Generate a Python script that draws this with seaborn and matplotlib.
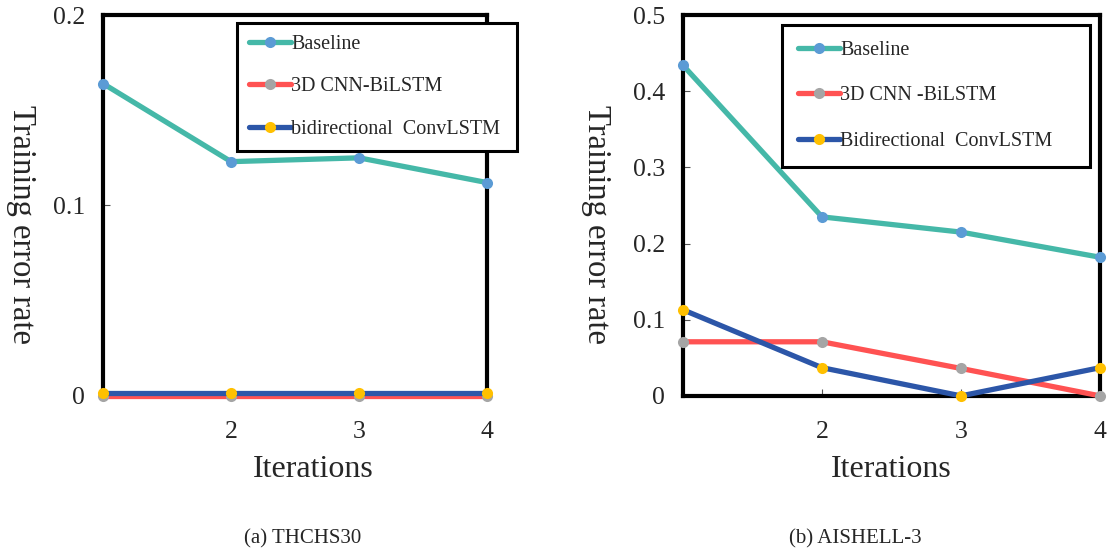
import matplotlib
matplotlib.use("Agg")
import matplotlib.pyplot as plt
import seaborn as sns
import pandas as pd

iterations = [1, 2, 3, 4]
series_names_a = ["Baseline", "3D CNN-BiLSTM", "bidirectional  ConvLSTM"]
series_names_b = ["Baseline", "3D CNN -BiLSTM", "Bidirectional  ConvLSTM"]

a_baseline = [0.164, 0.123, 0.125, 0.112]
a_cnn_bilstm = [0.0, 0.0, 0.0, 0.0]
a_convlstm = [0.0015, 0.0015, 0.0015, 0.0015]

b_baseline = [0.434, 0.235, 0.215, 0.182]
b_cnn_bilstm = [0.071, 0.071, 0.036, 0.0]
b_convlstm = [0.113, 0.037, 0.0, 0.037]

line_colors = ["#45B8A8", "#FF5252", "#2C56A8"]
marker_colors = ["#5B9BD5", "#A5A5A5", "#FFC000"]

a_yticks = [0, 0.1, 0.2]
a_yticklabels = ["0", "0.1", "0.2"]
b_yticks = [0, 0.1, 0.2, 0.3, 0.4, 0.5]
b_yticklabels = ["0", "0.1", "0.2", "0.3", "0.4", "0.5"]
xticks = [2, 3, 4]
xticklabels = ["2", "3", "4"]

sns.set_theme(style="white")
plt.rcParams["font.family"] = ["Liberation Serif", "DejaVu Serif"]

fig = plt.figure(figsize=(11.08, 5.56), dpi=100)
ax_a = fig.add_axes([0.093, 0.288, 0.3466, 0.685])
ax_b = fig.add_axes([0.6164, 0.288, 0.3764, 0.685])


def draw(ax, values, names, ylim, yticks, yticklabels, leg_bbox, leg_spacing,
         borderpad, ylab_x, xlab_x):
    for vals, name, lc, mc in zip(values, names, line_colors, marker_colors):
        df = pd.DataFrame({"x": iterations, "y": vals})
        sns.lineplot(data=df, x="x", y="y", ax=ax, color=lc, linewidth=3.8,
                     marker="o", markersize=8, markerfacecolor=mc,
                     markeredgecolor=mc, markeredgewidth=0, label=name,
                     clip_on=False, zorder=3)
    ax.set_xlim(1, 4)
    ax.set_ylim(*ylim)
    ax.set_xticks(xticks)
    ax.set_xticklabels(xticklabels)
    ax.set_yticks(yticks)
    ax.set_yticklabels(yticklabels)
    ax.tick_params(axis="both", direction="in", length=5, width=0.8,
                   color="#555555", labelsize=18.5, left=True, bottom=True)
    ax.tick_params(axis="y", pad=13)
    ax.tick_params(axis="x", pad=18)
    for s in ax.spines.values():
        s.set_color("black")
        s.set_linewidth(3)
        s.set_zorder(2.5)
    ax.set_xlabel("Iterations", fontsize=23)
    ax.set_ylabel("Training error rate", fontsize=23.5, rotation=270)
    ax.yaxis.set_label_coords(ylab_x, 0.45)
    ax.xaxis.set_label_coords(xlab_x, -0.155)
    leg = ax.legend(loc="upper left", bbox_to_anchor=leg_bbox, fontsize=14.5,
                    frameon=True, fancybox=False, edgecolor="black",
                    labelspacing=leg_spacing, handlelength=2.1, handletextpad=0.0,
                    borderpad=borderpad, borderaxespad=0, framealpha=1,
                    mode="expand")
    leg.get_frame().set_linewidth(2.2)


draw(ax_a, [a_baseline, a_cnn_bilstm, a_convlstm], series_names_a, (0, 0.2),
     a_yticks, a_yticklabels, (0.349, 0.5, 0.729, 0.479), 1.15, 0.6, -0.252, 0.547)
draw(ax_b, [b_baseline, b_cnn_bilstm, b_convlstm], series_names_b, (0, 0.5),
     b_yticks, b_yticklabels, (0.2374, 0.5, 0.7386, 0.474), 1.3, 0.8, -0.244, 0.5)

fig.text(0.273, 0.031, "(a) THCHS30", fontsize=15, ha="center", va="center")
fig.text(0.772, 0.031, "(b) AISHELL-3", fontsize=15, ha="center", va="center")

fig.savefig("out.png", dpi=100)
